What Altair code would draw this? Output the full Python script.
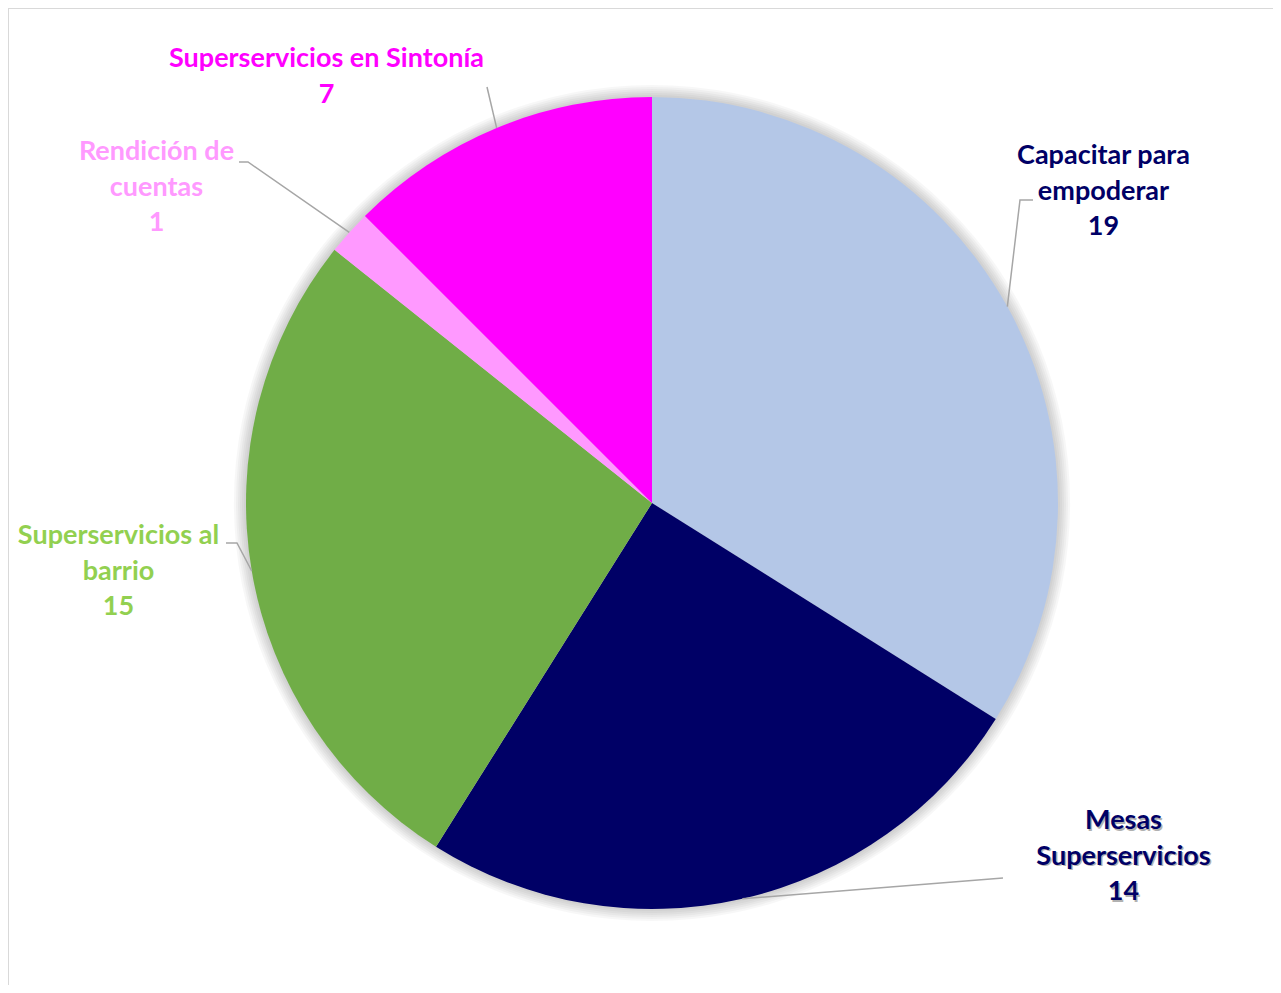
import altair as alt
import pandas as pd
import numpy as np

# ---- data ----
categories = ["Capacitar para empoderar", "Mesas Superservicios", "Superservicios al barrio",
              "Rendición de cuentas", "Superservicios en Sintonía"]
values = [19, 14, 15, 1, 7]
label_text = ["Capacitar para\nempoderar", "Mesas\nSuperservicios", "Superservicios al\nbarrio",
              "Rendición de\ncuentas", "Superservicios en Sintonía"]
slice_colors = ["#B4C7E7", "#000066", "#70AD47", "#FF99FF", "#FF00FF"]
label_colors = ["#000066", "#000066", "#92D050", "#FF99FF", "#FF00FF"]

# ---- layout ----
W, H = 1265, 977
CX, CY, R = 644, 495, 406
FONT = "Lato"
FS = 27
LH = 35.5
label_pos = {  # centre of the first label line
    "Capacitar para empoderar": (1095.5, 148),
    "Mesas Superservicios": (1115.5, 813),
    "Superservicios al barrio": (110.5, 528),
    "Rendición de cuentas": (148.5, 144),
    "Superservicios en Sintonía": (318.5, 51),
}
leader_tail = {  # leader points after the start point on the pie edge
    "Capacitar para empoderar": [(1012, 192), (1025, 192)],
    "Mesas Superservicios": [(995, 870)],
    "Superservicios al barrio": [(229, 535), (218, 535)],
    "Rendición de cuentas": [(240, 154), (231, 154)],
    "Superservicios en Sintonía": [(479, 79)],
}

df = pd.DataFrame({"cat": categories, "value": values, "order": list(range(len(values))),
                   "label": [t + "\n" + str(v) for t, v in zip(label_text, values)],
                   "lcolor": label_colors})
total = df["value"].sum()
df["mid"] = (df["value"].cumsum() - df["value"] / 2) / total * 2 * np.pi
df["lx"] = [label_pos[c][0] for c in df["cat"]]
df["ly"] = [label_pos[c][1] for c in df["cat"]]

rows = []
for _, r in df.iterrows():
    pts = [(CX + R * np.sin(r["mid"]), CY - R * np.cos(r["mid"]))] + leader_tail[r["cat"]]
    for i, (x, y) in enumerate(pts):
        rows.append({"cat": r["cat"], "step": i, "x": x, "y": y})
leaders = pd.DataFrame(rows)

base = alt.Chart(df)

# soft shadow around the pie
one = pd.DataFrame({"v": [1]})
shadows = [
    alt.Chart(one).mark_arc(radius=R + k * 2, theta=0, theta2=2 * np.pi,
                            color="#000000", opacity=0.03)
    .encode(x=alt.value(CX), y=alt.value(CY))
    for k in range(6, 0, -1)
]

pie = base.mark_arc(radius=R).encode(
    theta=alt.Theta("value:Q", stack=True),
    order=alt.Order("order:Q"),
    color=alt.Color("cat:N", scale=alt.Scale(domain=categories, range=slice_colors), legend=None),
    x=alt.value(CX), y=alt.value(CY),
)

lines = alt.Chart(leaders).mark_line(color="#A6A6A6", strokeWidth=1.5).encode(
    x=alt.X("x:Q", scale=None, axis=None),
    y=alt.Y("y:Q", scale=None, axis=None),
    detail="cat:N",
    order="step:Q",
)

text_shadow = base.transform_filter(alt.datum.cat == "Mesas Superservicios").mark_text(
    font=FONT, fontSize=FS, fontWeight="bold", lineBreak="\n", lineHeight=LH,
    align="center", baseline="middle", dx=1.5, dy=1.5, color="#000000", opacity=0.3
).encode(x=alt.X("lx:Q", scale=None, axis=None), y=alt.Y("ly:Q", scale=None, axis=None), text="label:N")

labels = base.mark_text(
    font=FONT, fontSize=FS, fontWeight="bold", lineBreak="\n", lineHeight=LH,
    align="center", baseline="middle"
).encode(
    x=alt.X("lx:Q", scale=None, axis=None),
    y=alt.Y("ly:Q", scale=None, axis=None),
    text="label:N",
    color=alt.Color("lcolor:N", scale=None),
)

frame_df = pd.DataFrame({"a": [0]})
frame_v = alt.Chart(frame_df).mark_rule(color="#D9D9D9", strokeWidth=2).encode(
    x=alt.value(0), y=alt.value(0), y2=alt.value(H + 20))
frame_h = alt.Chart(frame_df).mark_rule(color="#D9D9D9", strokeWidth=2).encode(
    y=alt.value(0), x=alt.value(0), x2=alt.value(W + 20))

chart = alt.layer(*shadows, pie, lines, text_shadow, labels, frame_v, frame_h).properties(
    width=W, height=H, padding=0, autosize=alt.AutoSizeParams(type="none"),
    background="white"
).configure_view(stroke=None)

chart.save("out.html", embed_options={"renderer": "svg", "actions": False})
